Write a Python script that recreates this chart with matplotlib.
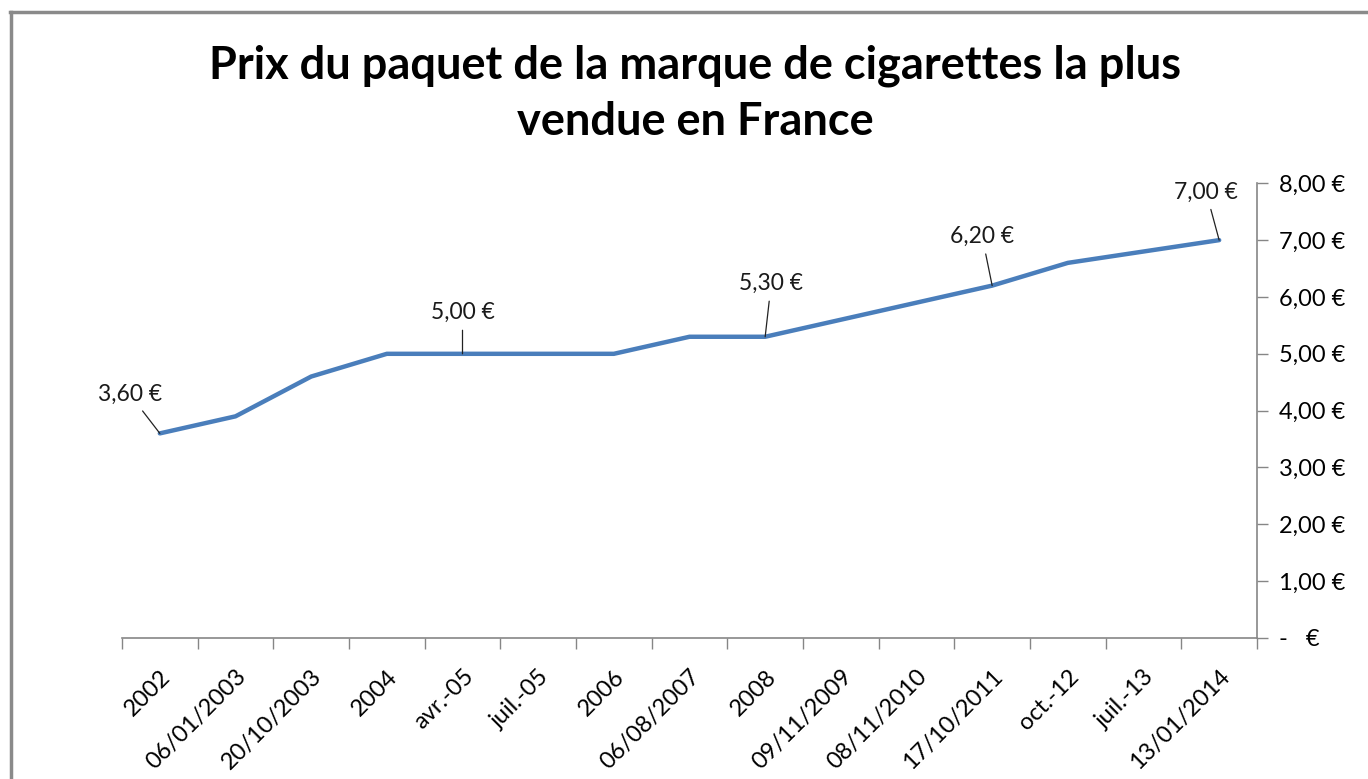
import numpy as np
import matplotlib
matplotlib.use("Agg")
import matplotlib.pyplot as plt
from matplotlib.lines import Line2D

plt.rcParams['font.family'] = ['Lato', 'DejaVu Sans']

# data
categories = ['2002', '06/01/2003', '20/10/2003', '2004', 'avr.-05', 'juil.-05',
              '2006', '06/08/2007', '2008', '09/11/2009', '08/11/2010',
              '17/10/2011', 'oct.-12', 'juil.-13', '13/01/2014']
prices = [3.60, 3.90, 4.60, 5.00, 5.00, 5.00, 5.00, 5.30, 5.30,
          5.60, 5.90, 6.20, 6.60, 6.80, 7.00]
yticks = [0, 1, 2, 3, 4, 5, 6, 7, 8]
ytick_labels = ['-   €', '1,00 €', '2,00 €', '3,00 €', '4,00 €', '5,00 €',
                '6,00 €', '7,00 €', '8,00 €']
# which points carry a data label, and label offset in pixels
labelled = [0, 4, 8, 11, 14]
label_offsets = [(-30, 39), (0, 41), (6, 53), (-10, 49), (-13, 48)]

W, H = 1368, 779
fig = plt.figure(figsize=(W / 100, H / 100), dpi=100)
ax = fig.add_axes([122 / W, 1 - 638 / H, (1257 - 122) / W, (638 - 183.3) / H])

x = np.arange(len(categories))
ax.plot(x, prices, color='#4a7ebb', lw=3.2, solid_capstyle='round', zorder=3)

for i, (dx, dy) in zip(labelled, label_offsets):
    txt = '{:.2f} €'.format(prices[i]).replace('.', ',')
    ax.annotate(txt, xy=(x[i], prices[i]), xytext=(dx, dy),
                textcoords='offset pixels', ha='center', va='center',
                fontsize=16.5, color='#1a1a1a',
                arrowprops=dict(arrowstyle='-', color='#222222', lw=0.9,
                                shrinkA=3, shrinkB=0))

ax.set_xlim(-0.5, len(categories) - 0.5)
ax.set_ylim(0, 8)

# x ticks between categories, labels at centers
ax.set_xticks(np.arange(len(categories) + 1) - 0.5)
ax.set_xticklabels([])
ax.set_xticks(x, minor=True)
ax.set_xticklabels(categories, minor=True, rotation=45, ha='right',
                   va='top', rotation_mode='anchor', fontsize=17)
ax.tick_params(axis='x', which='major', length=8, width=1, color='#868686')
ax.tick_params(axis='x', which='minor', length=0, pad=20)

ax.yaxis.tick_right()
ax.set_yticks(yticks)
ax.set_yticklabels(ytick_labels, fontsize=17)
ax.tick_params(axis='y', length=8, width=1, color='#868686', pad=8)

for s in ['left', 'top']:
    ax.spines[s].set_visible(False)
for s in ['right', 'bottom']:
    ax.spines[s].set_color('#868686')
    ax.spines[s].set_linewidth(1.2)

fig.text(695 / W, 1 - 94 / H,
         'Prix du paquet de la marque de cigarettes la plus\nvendue en France',
         ha='center', va='center', fontsize=32.5, fontweight='bold',
         linespacing=1.4)

# chart frame (left and top edges visible)
fig.add_artist(Line2D([11 / W, 11 / W], [0, 1 - 12 / H], color='#8a8a8a', lw=2.5))
fig.add_artist(Line2D([10 / W, 1], [1 - 12 / H, 1 - 12 / H], color='#8a8a8a', lw=2.5))

fig.savefig('out.png', dpi=100)
